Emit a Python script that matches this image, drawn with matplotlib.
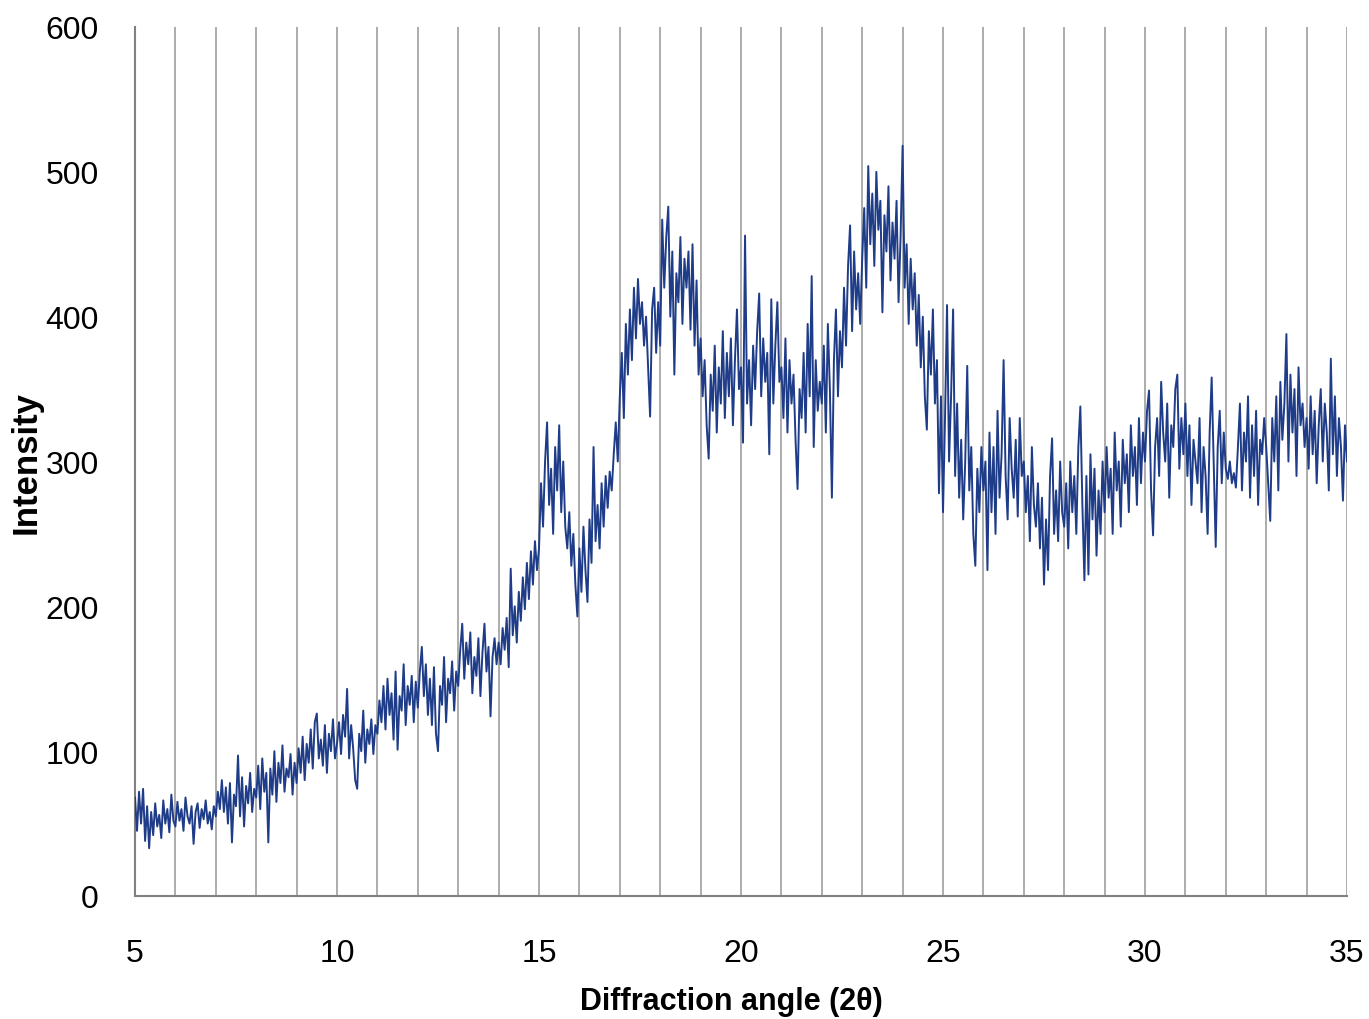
import numpy as np
import matplotlib
matplotlib.use('Agg')
import matplotlib.pyplot as plt

# intensity, 20 readings per degree (step 0.05)
deg_05 = [68, 45, 72, 50, 74, 38, 62, 33, 58, 42, 64, 48, 56, 40, 66, 50, 60, 44, 70, 52]
deg_06 = [48, 65, 52, 60, 45, 68, 55, 50, 62, 36, 58, 64, 47, 60, 53, 66, 50, 58, 46, 62]
deg_07 = [55, 72, 60, 80, 58, 75, 50, 78, 37, 70, 62, 97, 55, 82, 48, 76, 64, 85, 58, 74]
deg_08 = [68, 90, 60, 95, 72, 85, 37, 88, 70, 100, 65, 92, 78, 104, 72, 88, 82, 98, 70, 92]
deg_09 = [78, 102, 85, 110, 80, 105, 92, 115, 88, 120, 126, 95, 108, 90, 118, 85, 112, 100, 122, 95]
deg_10 = [105, 120, 98, 125, 110, 143, 95, 118, 102, 80, 74, 112, 100, 128, 92, 115, 105, 122, 98, 118]
deg_11 = [112, 135, 120, 145, 115, 150, 125, 140, 108, 155, 101, 138, 128, 160, 118, 145, 132, 152, 120, 148]
deg_12 = [130, 155, 172, 138, 160, 125, 150, 118, 158, 112, 100, 145, 132, 165, 120, 150, 140, 162, 128, 155]
deg_13 = [145, 170, 188, 150, 175, 160, 182, 140, 165, 152, 178, 138, 168, 188, 155, 172, 124, 165, 178, 160]
deg_14 = [175, 160, 185, 170, 192, 158, 226, 180, 200, 175, 210, 190, 220, 198, 230, 205, 238, 215, 245, 225]
deg_15 = [240, 285, 255, 300, 327, 270, 295, 250, 310, 280, 325, 265, 300, 255, 240, 265, 228, 250, 215, 193]
deg_16 = [240, 210, 255, 225, 203, 260, 230, 310, 245, 270, 240, 285, 255, 290, 268, 293, 280, 305, 327, 300]
deg_17 = [345, 375, 330, 395, 360, 405, 370, 420, 385, 426, 395, 410, 380, 400, 365, 331, 405, 420, 375, 410]
deg_18 = [380, 467, 420, 455, 476, 400, 445, 360, 430, 410, 455, 395, 440, 420, 445, 391, 450, 380, 425, 360]
deg_19 = [385, 345, 370, 325, 302, 360, 335, 380, 320, 365, 340, 390, 330, 375, 345, 385, 325, 370, 405, 350]
deg_20 = [365, 313, 456, 340, 370, 325, 380, 350, 390, 416, 345, 385, 355, 375, 305, 412, 340, 380, 410, 355]
deg_21 = [365, 330, 385, 320, 370, 340, 360, 315, 281, 350, 330, 375, 320, 395, 345, 428, 310, 370, 335, 355]
deg_22 = [340, 380, 320, 395, 350, 275, 370, 405, 345, 390, 365, 420, 380, 435, 463, 390, 445, 405, 430, 395]
deg_23 = [440, 475, 420, 504, 450, 485, 435, 500, 460, 480, 403, 470, 445, 490, 425, 465, 440, 480, 410, 455]
deg_24 = [518, 420, 450, 395, 440, 405, 430, 380, 415, 365, 400, 345, 322, 390, 360, 405, 340, 370, 278, 345]
deg_25 = [265, 330, 408, 300, 345, 405, 290, 340, 275, 315, 260, 300, 366, 280, 310, 250, 228, 295, 265, 310]
deg_26 = [280, 300, 225, 320, 265, 310, 250, 335, 275, 305, 370, 290, 260, 330, 295, 275, 315, 262, 330, 290]
deg_27 = [300, 265, 290, 245, 310, 270, 255, 285, 240, 275, 215, 260, 225, 290, 316, 250, 280, 245, 300, 265]
deg_28 = [255, 285, 240, 300, 265, 290, 250, 310, 338, 270, 218, 290, 222, 305, 260, 295, 235, 280, 250, 300]
deg_29 = [265, 310, 275, 295, 250, 320, 280, 300, 255, 315, 285, 305, 265, 325, 290, 310, 270, 330, 285, 320]
deg_30 = [300, 335, 349, 280, 249, 310, 330, 290, 355, 320, 300, 340, 275, 325, 310, 350, 360, 295, 330, 305]
deg_31 = [340, 290, 325, 270, 315, 300, 285, 330, 265, 310, 290, 250, 320, 358, 300, 241, 310, 335, 285, 320]
deg_32 = [295, 288, 300, 285, 292, 282, 310, 340, 280, 320, 300, 345, 275, 325, 290, 335, 270, 315, 305, 330]
deg_33 = [310, 285, 259, 330, 300, 345, 280, 355, 315, 340, 388, 300, 360, 320, 350, 290, 365, 325, 340, 310]
deg_34 = [330, 295, 345, 305, 335, 285, 325, 350, 300, 340, 320, 280, 371, 305, 345, 290, 330, 310, 273, 325]
last_point = [300]

intensity = (deg_05 + deg_06 + deg_07 + deg_08 + deg_09 + deg_10 + deg_11 + deg_12
             + deg_13 + deg_14 + deg_15 + deg_16 + deg_17 + deg_18 + deg_19 + deg_20
             + deg_21 + deg_22 + deg_23 + deg_24 + deg_25 + deg_26 + deg_27 + deg_28
             + deg_29 + deg_30 + deg_31 + deg_32 + deg_33 + deg_34 + last_point)
angle = np.linspace(5, 35, len(intensity))

x_ticks = [5, 10, 15, 20, 25, 30, 35]
y_ticks = [0, 100, 200, 300, 400, 500, 600]

plt.rcParams['font.family'] = ['Liberation Sans', 'DejaVu Sans']

fig = plt.figure(figsize=(13.69, 10.20), dpi=100)
ax = fig.add_axes([135/1369, 123/1020, 1212/1369, 869/1020])

# vertical grid at every degree
for g in range(5, 36):
    ax.axvline(g, color='#a6a6a6', lw=1.3, zorder=1)

ax.plot(angle, intensity, color='#1f3c88', lw=1.4, zorder=3)

ax.set_xlim(5, 35)
ax.set_ylim(0, 600)
ax.set_xticks(x_ticks)
ax.set_yticks(y_ticks)
ax.tick_params(length=0, labelsize=23)
ax.tick_params(axis='x', pad=30)
ax.tick_params(axis='y', pad=26)
for s in ['top', 'right']:
    ax.spines[s].set_visible(False)
for s in ['left', 'bottom']:
    ax.spines[s].set_color('#808080')
    ax.spines[s].set_linewidth(1.5)

fig.text(731/1369, 1 - 1002/1020, 'Diffraction angle (2θ)', ha='center', va='center',
         fontsize=22, fontweight='bold')
fig.text(26/1369, 1 - 463/1020, 'Intensity', ha='center', va='center', rotation=90,
         fontsize=25, fontweight='bold')

fig.savefig('out.png', dpi=100)
